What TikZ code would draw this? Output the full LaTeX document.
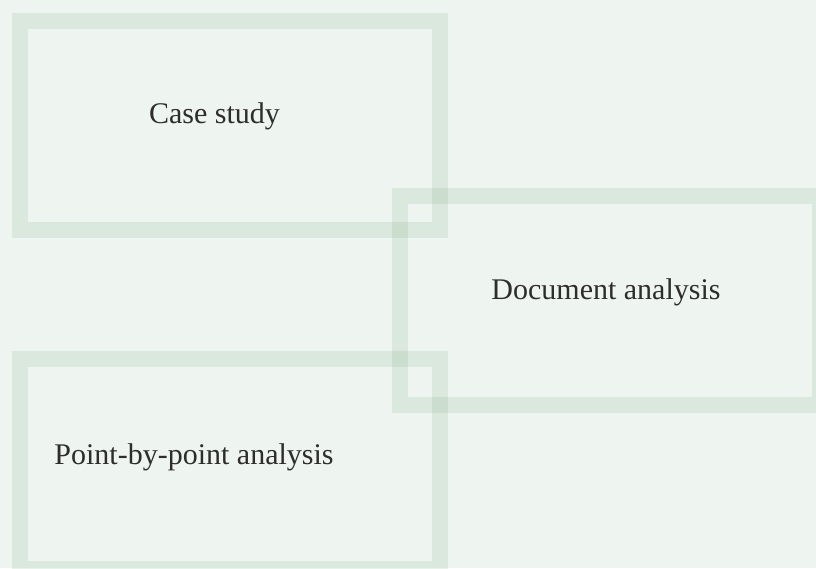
\documentclass[tikz,border=0pt]{standalone}
\usepackage{fontspec}
\setmainfont{Liberation Serif}
\definecolor{paper}{RGB}{238,244,240}
\definecolor{band}{RGB}{111,164,120}
\definecolor{ink}{RGB}{45,45,45}

\begin{document}
\begin{tikzpicture}[x=1pt, y=-1pt]
        \useasboundingbox[fill=paper] (0,0) rectangle (816,568);
        \begin{scope}[every node/.style={draw=band, draw opacity=0.15, line width=16pt, rectangle, inner sep=0pt, minimum width=420pt, minimum height=209pt}]
            \node (case) at (230,125.5) {};
            \node (doc) at (610,300.5) {};
            \node[minimum height=210pt] (point) at (230,464) {};
        \end{scope}
        \begin{scope}[every node/.style={anchor=base, inner sep=0pt, text=ink, font=\fontsize{30}{36}\selectfont}]
            \node (caseText) at (214.5,123) {Case study};
            \node (docText) at (606,299) {Document analysis};
            \node (pointText) at (194,464) {Point-by-point analysis};
        \end{scope}
    \end{tikzpicture}
\end{document}
